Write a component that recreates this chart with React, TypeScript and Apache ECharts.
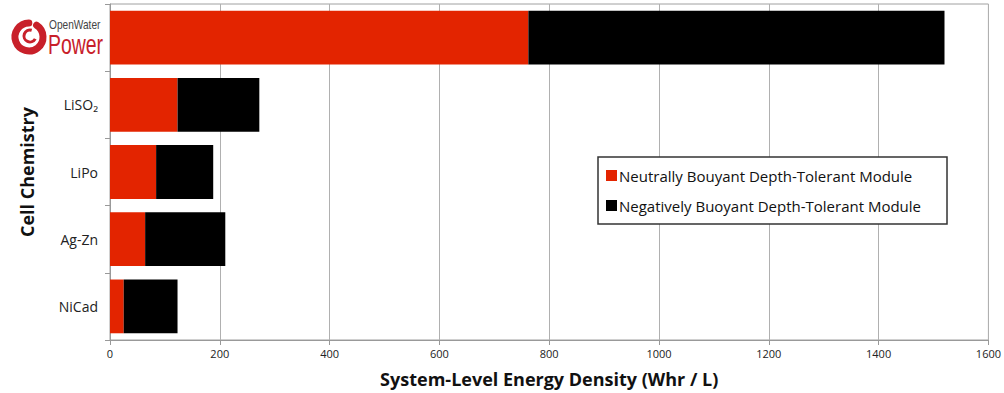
import React, { useEffect, useRef } from "react";
import * as echarts from "echarts";

const categories = ["NiCad", "Ag-Zn", "LiPo", "LiSO₂", "OpenWater Power"];
const neutralValues = [25, 64, 84, 123, 762];
const negativeValues = [98, 146, 104, 149, 758];
const seriesNames = [
  "Neutrally Bouyant Depth-Tolerant Module",
  "Negatively Buoyant Depth-Tolerant Module",
];
const xTicks = { min: 0, max: 1600, interval: 200 };
const xTitle = "System-Level Energy Density (Whr / L)";
const yTitle = "Cell Chemistry";

const FONT = "'Open Sans', Lato, sans-serif";

export default function App() {
  const ref = useRef<HTMLDivElement>(null);
  useEffect(() => {
    if (!ref.current) return;
    const chart = echarts.init(ref.current, undefined, { renderer: "svg" });
    chart.setOption({
      animation: false,
      backgroundColor: "#ffffff",
      textStyle: { fontFamily: FONT },
      grid: {
        left: 110,
        right: 12,
        top: 4,
        bottom: 52,
        show: true,
        borderColor: "#a0a0a0",
        borderWidth: 1,
      },
      legend: {
        orient: "vertical",
        left: 598,
        top: 157,
        itemWidth: 11,
        itemHeight: 11,
        itemGap: 15,
        padding: [11, 26, 11, 8],
        borderColor: "#333",
        borderWidth: 1.5,
        backgroundColor: "#fff",
        icon: "rect",
        textStyle: { fontSize: 15, color: "#111", fontFamily: FONT, padding: [2, 0, 0, -3] },
        data: seriesNames,
      },
      xAxis: {
        type: "value",
        min: xTicks.min,
        max: xTicks.max,
        interval: xTicks.interval,
        name: xTitle,
        nameLocation: "middle",
        nameGap: 30,
        nameTextStyle: { fontSize: 18, fontWeight: "bold", color: "#111", fontFamily: FONT },
        axisLine: { show: true, lineStyle: { color: "#999" } },
        axisTick: { show: true, length: 5, lineStyle: { color: "#999" } },
        axisLabel: {
          fontSize: 11,
          color: "#222",
          margin: 8,
          formatter: (v: number) => String(v),
        },
        splitLine: { show: true, lineStyle: { color: "#b0b0b0", width: 1 } },
      },
      yAxis: {
        type: "category",
        data: categories,
        name: yTitle,
        nameLocation: "middle",
        nameGap: 74,
        nameRotate: 90,
        nameTextStyle: { fontSize: 18, fontWeight: "bold", color: "#111", fontFamily: FONT },
        axisLine: { show: true, lineStyle: { color: "#999" } },
        axisTick: { show: true, length: 5, lineStyle: { color: "#999" } },
        axisLabel: {
          fontSize: 14,
          color: "#222",
          margin: 12,
          formatter: (v: string) => (v === "OpenWater Power" ? "" : v),
        },
        splitLine: { show: false },
      },
      series: [
        {
          name: seriesNames[0],
          type: "bar",
          stack: "total",
          data: neutralValues,
          barCategoryGap: "20%",
          itemStyle: { color: "#e32400" },
        },
        {
          name: seriesNames[1],
          type: "bar",
          stack: "total",
          data: negativeValues,
          barCategoryGap: "20%",
          itemStyle: { color: "#000000" },
        },
      ],
      graphic: [
        {
          type: "arc",
          shape: { cx: 29, cy: 37, r: 14, startAngle: -1.0, endAngle: 4.7 },
          style: { stroke: "#c8202a", lineWidth: 7, fill: "none", lineCap: "round" },
        },
        {
          type: "arc",
          shape: { cx: 30, cy: 36, r: 6, startAngle: 0.5, endAngle: 5.0 },
          style: { stroke: "#c8202a", lineWidth: 3, fill: "none" },
        },
        {
          type: "text",
          x: 49,
          y: 17,
          scaleX: 0.78,
          style: {
            text: "OpenWater",
            fontSize: 13,
            fill: "#444",
            fontFamily: "'Liberation Sans', Arial, sans-serif",
          },
        },
        {
          type: "text",
          x: 48,
          y: 31,
          scaleX: 0.72,
          style: {
            text: "Power",
            fontSize: 27,
            fill: "#c8202a",
            fontFamily: "'Liberation Sans', Arial, sans-serif",
          },
        },
      ],
    });
    return () => chart.dispose();
  }, []);
  return (
    <div
      ref={ref}
      style={{ position: "absolute", left: 0, top: 0, width: 1004, height: 393 }}
    />
  );
}
